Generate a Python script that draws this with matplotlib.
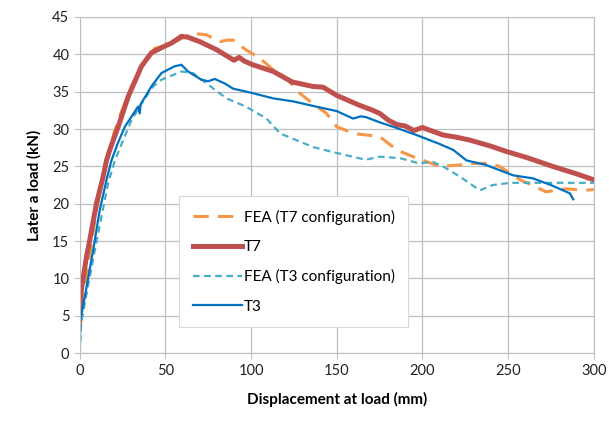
import matplotlib
matplotlib.use('Agg')
import matplotlib.pyplot as plt

# 讀圖估計的資料 (mm, kN)
fea_t7_x = [0, 1, 5, 10, 15, 20, 24.3, 30.2, 36, 43.8, 52.5, 60, 66, 74, 81.7, 86, 89.5, 97, 105,
            113, 122.6, 128.4, 136, 144, 150, 160, 175, 185, 194.5, 210, 222, 230, 238, 245, 257,
            264, 272, 284, 294, 300]
fea_t7_y = [2.8, 5, 12, 19.5, 25, 29.5, 32.3, 35.7, 38.4, 40.8, 41.3, 42.2, 42.8, 42.6, 41.7, 41.9,
            41.9, 40.6, 39.5, 37.9, 36.3, 34.8, 33.4, 32.1, 30.3, 29.4, 29, 27.2, 26.3, 25, 25.2,
            25.4, 25.4, 25, 23.2, 22.5, 21.6, 22, 21.8, 21.9]

t7_x = [0, 0.6, 3.9, 5.8, 9.7, 13.6, 15.6, 17.5, 22.4, 28.2, 36, 41.8, 49.6, 53.5, 59.3, 63, 70,
        80, 90, 93, 96, 101, 113, 124, 136, 142, 150, 158, 163, 170, 175, 180, 185, 190, 195, 200,
        206, 212, 220, 228, 240, 249, 262, 276, 290, 300]
t7_y = [4.7, 8, 12.9, 15.1, 20, 23.6, 25.8, 27.2, 30.3, 34.3, 38.4, 40.2, 41.1, 41.5, 42.4, 42.3,
        41.7, 40.6, 39.2, 39.6, 39.1, 38.6, 37.7, 36.3, 35.7, 35.6, 34.5, 33.7, 33.2, 32.6, 32.1,
        31.2, 30.6, 30.4, 29.8, 30.2, 29.7, 29.2, 28.9, 28.5, 27.7, 27.0, 26.1, 25.0, 24.0, 23.2]

fea_t3_x = [0, 0.8, 4, 8.8, 16.5, 20.5, 25.3, 30.2, 36, 42.8, 47.7, 59.3, 66, 74, 85.6, 97, 109,
            117, 124.5, 136, 148, 163, 167, 175, 187, 198, 206, 212, 222, 233.5, 241, 251, 300]
fea_t3_y = [0, 4, 8, 13.8, 22.7, 25.8, 28.5, 31.2, 33.4, 35.7, 36.6, 37.7, 37.5, 36.1, 34.1, 33,
            31.4, 29.4, 28.7, 27.6, 26.9, 26.1, 25.9, 26.3, 26.1, 25.4, 25.6, 25, 23.6, 21.8, 22.5,
            22.8, 22.8]

t3_x = [0, 0.3, 2.9, 7.8, 11.7, 15.6, 18.5, 22, 26.3, 34, 35, 35.5, 41.8, 47.7, 55.4, 59.3, 63.2,
        71, 74.9, 78.8, 84.6, 89.5, 101, 113, 124.5, 138, 150, 159.5, 164, 167, 175, 183, 196.5,
        210, 218, 225.7, 237, 253, 264.5, 275, 286, 288]
t3_y = [0, 4.4, 7.5, 13.8, 19.2, 23.2, 25.8, 28, 30.3, 33, 32.1, 33.3, 35.7, 37.5, 38.4, 38.6,
        37.7, 36.6, 36.4, 36.7, 36.1, 35.4, 34.8, 34.1, 33.7, 33, 32.4, 31.4, 31.7, 31.6, 30.9,
        30.3, 29.2, 28, 27.2, 25.8, 25.2, 23.8, 23.4, 22.5, 21.4, 20.6]

plt.rcParams['font.family'] = ['Lato', 'DejaVu Sans']

fig, ax = plt.subplots(figsize=(6.09, 4.24), dpi=100)
fig.subplots_adjust(left=0.131, right=0.975, top=0.96, bottom=0.167)

ax.plot(fea_t7_x, fea_t7_y, color='#F79646', lw=2.2, dashes=(5, 3), label='FEA (T7 configuration)')
ax.plot(t7_x, t7_y, color='#C0504D', lw=3.6, label='T7')
ax.plot(fea_t3_x, fea_t3_y, color='#4BACC6', lw=1.6, dashes=(3, 2), label='FEA (T3 configuration)')
ax.plot(t3_x, t3_y, color='#0070C0', lw=1.6, label='T3')

ax.set_xlim(0, 300)
ax.set_ylim(0, 45)
ax.set_xticks(range(0, 301, 50))
ax.set_yticks(range(0, 46, 5))
ax.grid(True, color='#bfbfbf', lw=0.9)
ax.set_axisbelow(True)
for s in ax.spines.values():
    s.set_color('#bfbfbf')
ax.tick_params(colors='#bfbfbf', labelcolor='#222222', labelsize=10.5, length=4)

ax.set_xlabel('Displacement at load (mm)', fontsize=11, fontweight='bold', labelpad=10)
ax.set_ylabel('Later a load (kN)', fontsize=11, fontweight='bold', labelpad=8)

leg = ax.legend(loc='lower left', bbox_to_anchor=(0.179, 0.054), fontsize=11, frameon=True,
                fancybox=False, edgecolor='#d9d9d9', framealpha=1, handlelength=3.2,
                handletextpad=0.1, labelspacing=1.0, borderpad=0.9)
leg.get_frame().set_linewidth(0.8)

fig.savefig('out.png', dpi=100)
